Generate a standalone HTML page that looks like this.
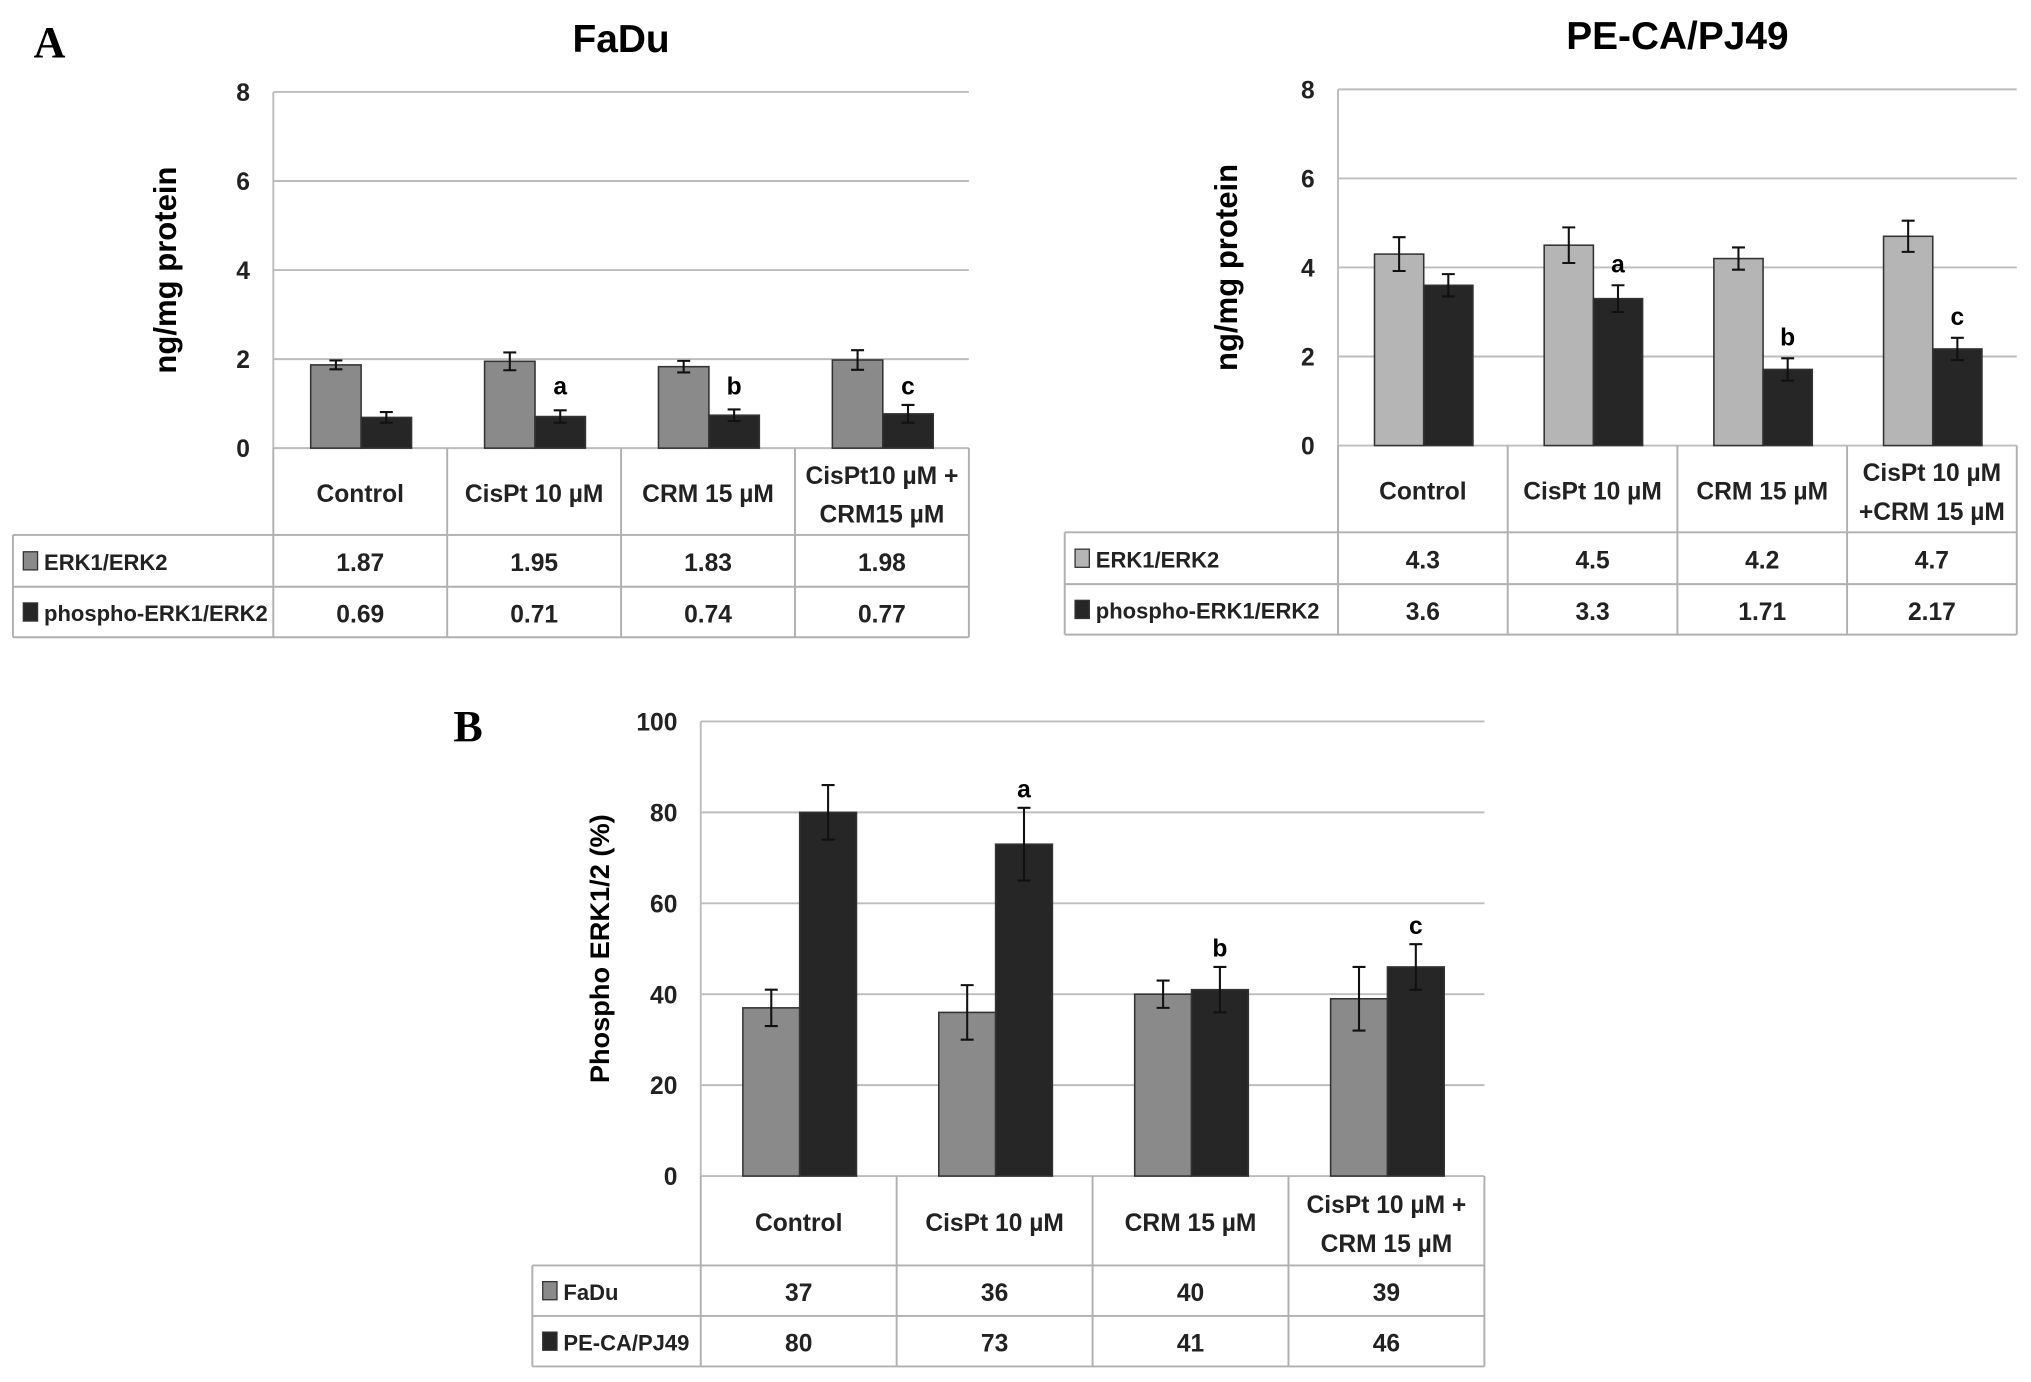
<!DOCTYPE html>
<html><head><meta charset="utf-8"><style>
html,body{margin:0;padding:0;background:#fff;}
svg{display:block;}
text{font-family:"Liberation Sans",sans-serif;}
.n{font-family:"Liberation Sans Narrow","Liberation Sans",sans-serif;}
</style></head><body>
<svg id="fig" width="2031" height="1382" viewBox="0 0 1568 1067" preserveAspectRatio="none" xmlns="http://www.w3.org/2000/svg">
<text x="26" y="44" font-weight="bold" font-size="34" style="font-family:'Liberation Serif',serif">A</text>
<text x="350" y="572" font-weight="bold" font-size="34" style="font-family:'Liberation Serif',serif">B</text>
</svg>
<script>
const categoriesFaDu = ["Control","CisPt 10 µM","CRM 15 µM",["CisPt10 µM +","CRM15 µM"]];
const categoriesPE = ["Control","CisPt 10 µM","CRM 15 µM",["CisPt 10 µM","+CRM 15 µM"]];
const categoriesB = ["Control","CisPt 10 µM","CRM 15 µM",["CisPt 10 µM +","CRM 15 µM"]];
const seriesNamesA = ["ERK1/ERK2","phospho-ERK1/ERK2"];
const seriesNamesB = ["FaDu","PE-CA/PJ49"];
const fadErk = [1.87,1.95,1.83,1.98];
const fadPhos = [0.69,0.71,0.74,0.77];
const fadErkErr = [0.1,0.2,0.13,0.22];
const fadPhosErr = [0.12,0.14,0.13,0.2];
const fadLetters = ["","a","b","c"];
const peErk = [4.3,4.5,4.2,4.7];
const pePhos = [3.6,3.3,1.71,2.17];
const peErkErr = [0.38,0.4,0.25,0.35];
const pePhosErr = [0.25,0.3,0.25,0.25];
const peLetters = ["","a","b","c"];
const bFaDu = [37,36,40,39];
const bPE = [80,73,41,46];
const bFaDuErr = [4,6,3,7];
const bPEErr = [6,8,5,5];
const bLetters = ["","a","b","c"];
const ticksA = [0,2,4,6,8];
const ticksB = [0,20,40,60,80,100];
const labelsA1 = ["1.87","1.95","1.83","1.98"];
const labelsA2 = ["0.69","0.71","0.74","0.77"];
const labelsP1 = ["4.3","4.5","4.2","4.7"];
const labelsP2 = ["3.6","3.3","1.71","2.17"];
const labelsB1 = ["37","36","40","39"];
const labelsB2 = ["80","73","41","46"];

const NS="http://www.w3.org/2000/svg";
const svg=document.getElementById('fig');
function mk(tag,attrs,parent,txt){const e=document.createElementNS(NS,tag);for(const k in attrs)e.setAttribute(k,attrs[k]);if(txt!==undefined)e.textContent=txt;(parent||svg).appendChild(e);return e;}

function chart(c){
  const g=mk('g',{});
  
  
  const ymax=c.ticks[c.ticks.length-1];
  const y=v=>c.y0-(v/ymax)*(c.y0-c.ytop);
  const gw=(c.x1-c.x0)/c.cats.length;
  const xg=i=>c.x0+i*gw;
  if(c.title){const t=mk('text',{x:(c.x0+c.x1)/2,y:c.titleY,'text-anchor':'middle','font-size':30,'font-weight':'bold',class:'n'},g,c.title);
    }
  c.ticks.forEach(v=>{
    const l=mk('line',{x1:c.x0,x2:c.x1,y1:y(v),y2:y(v),stroke:'#bdbdbd','stroke-width':1.5},g);
    
    const t=mk('text',{x:c.x0-18,y:y(v)+7,'text-anchor':'end','font-size':19,'font-weight':'bold',fill:'#222'},g,String(v));
    
  });
  mk('line',{x1:c.x0,x2:c.x0,y1:c.ytop,y2:c.y0,stroke:'#bdbdbd','stroke-width':1.5},g);
  const yl=mk('text',{x:0,y:0,'text-anchor':'middle','font-size':c.ylSize,'font-weight':'bold',transform:`translate(${c.ylx},${(c.ytop+c.y0)/2}) rotate(-90)`},g,c.ylabel);
  
  const bw=gw*0.29, off=gw*0.215;
  c.series.forEach((s,si)=>{
    s.vals.forEach((v,i)=>{
      const bx=xg(i)+off+si*bw;
      const r=mk('rect',{x:bx,y:y(v),width:bw,height:c.y0-y(v),fill:s.color,stroke:'#333','stroke-width':1.2},g);
      
      const cx=bx+bw/2, e=s.err[i];
      const eb=mk('path',{d:`M${cx},${y(v+e)}V${y(v-e)}M${cx-5},${y(v+e)}H${cx+5}M${cx-5},${y(v-e)}H${cx+5}`,stroke:'#111','stroke-width':1.6,fill:'none'},g);
      
      if(si===1&&c.letters[i]){
        const lt=mk('text',{x:cx,y:y(c.letterAt?c.letterAt:(v+e))-c.letterGap,'text-anchor':'middle','font-size':19,'font-weight':'bold',class:'n'},g,c.letters[i]);
        
      }
    });
  });
  const r0=c.y0,r1=c.rows[0],r2=c.rows[1],r3=c.rows[2];
  const st={stroke:'#b0b0b0','stroke-width':1.5,fill:'none'};
  mk('path',Object.assign({d:`M${c.x0},${r0}V${r3}M${c.x1},${r0}V${r3}M${c.tl},${r1}V${r3}M${c.tl},${r1}H${c.x1}M${c.tl},${r2}H${c.x1}M${c.tl},${r3}H${c.x1}`},st),g);
  for(let i=1;i<c.cats.length;i++) mk('line',Object.assign({x1:xg(i),x2:xg(i),y1:r0,y2:r3},st),g);
  const tf={'font-size':19,'font-weight':'bold',fill:'#222',class:'n'};
  c.cats.forEach((cat,i)=>{
    const cx=xg(i)+gw/2, cy=(r0+r1)/2;
    if(Array.isArray(cat)){
      cat.forEach((ln,k)=>{const t=mk('text',Object.assign({x:cx,y:cy-6+k*30,'text-anchor':'middle'},tf),g,ln);
        });
    } else {const t=mk('text',Object.assign({x:cx,y:cy+8,'text-anchor':'middle'},tf),g,cat);
      }
  });
  c.series.forEach((s,si)=>{
    const top=si===0?r1:r2, bot=si===0?r2:r3, my=(top+bot)/2;
    const sw=mk('rect',{x:c.tl+8,y:my-7,width:11,height:14,fill:s.color,stroke:'#333','stroke-width':1},g);
    
    const lt=mk('text',{x:c.tl+24,y:my+7,'font-size':17,'font-weight':'bold',fill:'#222',class:'n'},g,s.label);
    
    s.labels.forEach((lb,i)=>{const t=mk('text',Object.assign({x:xg(i)+gw/2,y:my+8,'text-anchor':'middle'},tf),g,lb);
      });
  });
}

chart({name:'fadu-chart',title:'FaDu',titleY:40,x0:211,x1:748,ytop:71,y0:346,ticks:ticksA,ylabel:'ng/mg protein',ylx:136,ylSize:24,
  cats:categoriesFaDu,rows:[413,453,492],tl:10,letters:fadLetters,letterAt:1.2,letterGap:0,
  series:[{key:'erk',label:seriesNamesA[0],vals:fadErk,err:fadErkErr,color:'#8a8a8a',labels:labelsA1},
          {key:'phospho',label:seriesNamesA[1],vals:fadPhos,err:fadPhosErr,color:'#262626',labels:labelsA2}]});
chart({name:'peca-chart',title:'PE-CA/PJ49',titleY:38,x0:1033,x1:1557,ytop:69,y0:344,ticks:ticksA,ylabel:'ng/mg protein',ylx:955,ylSize:24,
  cats:categoriesPE,rows:[411,451,490],tl:822,letters:peLetters,letterGap:10,
  series:[{key:'erk',label:seriesNamesA[0],vals:peErk,err:peErkErr,color:'#b5b5b5',labels:labelsP1},
          {key:'phospho',label:seriesNamesA[1],vals:pePhos,err:pePhosErr,color:'#262626',labels:labelsP2}]});
chart({name:'phospho-percent-chart',title:'',x0:541,x1:1146,ytop:557,y0:908,ticks:ticksB,ylabel:'Phospho ERK1/2 (%)',ylx:470,ylSize:21,
  cats:categoriesB,rows:[977,1016,1055],tl:411,letters:bLetters,letterGap:8,
  series:[{key:'fadu',label:seriesNamesB[0],vals:bFaDu,err:bFaDuErr,color:'#8a8a8a',labels:labelsB1},
          {key:'peca',label:seriesNamesB[1],vals:bPE,err:bPEErr,color:'#262626',labels:labelsB2}]});
</script>
</body></html>
